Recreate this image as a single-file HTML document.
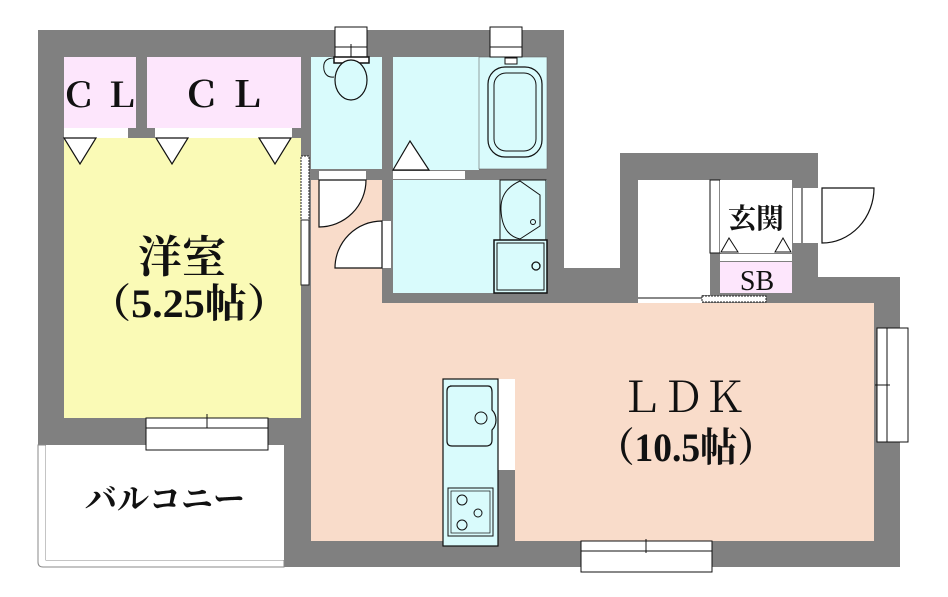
<!DOCTYPE html>
<html><head><meta charset="utf-8"><style>
html,body{margin:0;padding:0;background:#fff;}
svg{display:block;}
text{font-family:"Liberation Serif","Noto Serif CJK JP","Noto Serif CJK SC",serif;fill:#111;}
</style></head><body>
<svg width="948" height="597" viewBox="0 0 948 597" xmlns="http://www.w3.org/2000/svg">
<polygon points="38,30 564,30 564,268 620,268 620,153 818,153 818,277 900,277 900,567 284,567 284,445 38,445" fill="#808080"/>
<path d="M38,445 V562 Q38,567 43,567 H284 V560 H46 V445 Z" fill="#fff" stroke="#888" stroke-width="1"/>
<rect x="46" y="445" width="238" height="115" fill="#fff"/>
<rect x="64" y="138" width="237" height="280" fill="#fafab6"/>
<rect x="64" y="57" width="72" height="71" fill="#fde6fc"/>
<rect x="147" y="57" width="154" height="71" fill="#fde6fc"/>
<rect x="64" y="128" width="64" height="10" fill="#fff"/>
<rect x="155" y="128" width="137" height="10" fill="#fff"/>
<g fill="#fff" stroke="#111" stroke-width="1.2">
<polygon points="64,138 96,138 80,164"/>
<polygon points="156,138 188,138 172,164"/>
<polygon points="259,138 291,138 275,164"/>
</g>
<rect x="301" y="156" width="8" height="64" fill="#fff" stroke="#222" stroke-dasharray="2,1"/>
<rect x="301" y="220" width="8" height="65" fill="#fff" stroke="#222"/>
<rect x="146" y="418" width="122" height="32" fill="#fff" stroke="#111"/>
<line x1="146" y1="428" x2="268" y2="428" stroke="#111"/>
<line x1="207" y1="414" x2="207" y2="428" stroke="#111"/>
<rect x="311" y="57" width="71" height="112" fill="#d9fbfc"/>
<rect x="319" y="171" width="47" height="9" fill="#fff"/>
<rect x="335" y="27" width="32" height="30" fill="#fff" stroke="#111"/>
<line x1="335" y1="47" x2="367" y2="47" stroke="#111"/>
<line x1="351" y1="44" x2="351" y2="58" stroke="#111"/>
<rect x="334" y="57" width="35" height="6" fill="#fff" stroke="#111" stroke-width="1.5"/>
<ellipse cx="351" cy="80" rx="16" ry="20" fill="#d9fbfc" stroke="#111" stroke-width="1.2"/>
<path d="M334,58 Q322,58 324,70 Q326,78 334,77" fill="none" stroke="#111"/>
<rect x="393" y="57" width="86" height="113" fill="#d9fbfc"/>
<rect x="393" y="171" width="72" height="8" fill="#fff"/>
<polygon points="393,170 410,141 429,170" fill="#fff" stroke="#111" stroke-width="1.2"/>
<rect x="479" y="57" width="68" height="112" fill="#d9fbfc" stroke="#666" stroke-width="0.6"/>
<rect x="490" y="27" width="32" height="30" fill="#fff" stroke="#111"/>
<line x1="490" y1="47" x2="522" y2="47" stroke="#111"/>
<rect x="488" y="67" width="54" height="90" rx="17" fill="none" stroke="#111" stroke-width="1.2"/>
<rect x="494" y="73" width="42" height="78" rx="12" fill="none" stroke="#111"/>
<rect x="505" y="58" width="12" height="6" fill="#fff" stroke="#111"/>
<rect x="393" y="180" width="154" height="113" fill="#d9fbfc"/>
<rect x="500" y="180" width="46" height="60" fill="#d9fbfc" stroke="#111"/>
<path d="M520,181 Q500,190 501,210 Q502,235 520,239 L540,226 L540,195 Z" fill="none" stroke="#111"/>
<circle cx="533" cy="222" r="2.5" fill="none" stroke="#111"/>
<rect x="494" y="240" width="53" height="53" fill="#d9fbfc" stroke="#111" stroke-width="1.5"/>
<rect x="497" y="243" width="47" height="47" fill="none" stroke="#111"/>
<circle cx="536" cy="266" r="4" fill="none" stroke="#111" stroke-width="1.3"/>
<rect x="311" y="180" width="71" height="123" fill="#f9dcca"/>
<rect x="311" y="303" width="563" height="238" fill="#f9dcca"/>
<path d="M319,180 L319,227 A47,47 0 0 0 366,180 Z" fill="#fff" stroke="#111" stroke-width="1.2"/>
<rect x="382" y="221" width="9" height="47" fill="#fff"/>
<path d="M382,221 A47,47 0 0 0 335,268 L382,268 Z" fill="#fff" stroke="#111" stroke-width="1.2"/>
<rect x="638" y="180" width="72" height="115" fill="#fff"/>
<rect x="710" y="180" width="10" height="73" fill="#fff" stroke="#111"/>
<rect x="720" y="180" width="72" height="73" fill="#fff"/>
<rect x="720" y="254" width="72" height="7" fill="#fff"/>
<rect x="720" y="262" width="72" height="31" fill="#fde6fc"/>
<g fill="#fff" stroke="#111">
<polygon points="721,252 729,238 738,252"/>
<polygon points="775,252 783,238 791,252"/>
</g>
<rect x="638" y="293" width="64" height="10" fill="#fff"/>
<line x1="638" y1="298" x2="702" y2="298" stroke="#111"/>
<rect x="702" y="296" width="64" height="6" fill="#fff" stroke="#222" stroke-dasharray="2,1"/>
<rect x="793" y="188" width="29" height="55" fill="#fff"/>
<line x1="802" y1="188" x2="802" y2="243" stroke="#111"/>
<path d="M822,188 L874,188 A52,55 0 0 1 822,243 Z" fill="#fff" stroke="#111" stroke-width="1.2"/>
<rect x="877" y="328" width="31" height="114" fill="#fff" stroke="#111"/>
<line x1="887" y1="328" x2="887" y2="442" stroke="#111"/>
<line x1="875" y1="385" x2="890" y2="385" stroke="#111"/>
<rect x="581" y="541" width="131" height="31" fill="#fff" stroke="#111"/>
<line x1="581" y1="551" x2="712" y2="551" stroke="#111"/>
<line x1="646" y1="539" x2="646" y2="553" stroke="#111"/>
<rect x="498" y="379" width="17" height="91" fill="#fff"/>
<rect x="498" y="470" width="17" height="71" fill="#808080"/>
<rect x="443" y="379" width="55" height="167" fill="#d9fbfc" stroke="#111" stroke-width="1.2"/>
<path d="M450,386 H488 Q492,386 492,392 V410 Q496,414 496,420 Q496,426 492,430 V440 Q492,446 486,446 H452 Q447,446 447,441 V391 Q447,386 452,386 Z" fill="none" stroke="#111" stroke-width="1.2"/>
<circle cx="481" cy="418" r="6" fill="none" stroke="#111"/>
<rect x="448" y="488" width="45" height="48" fill="none" stroke="#111"/>
<rect x="451" y="491" width="39" height="42" fill="none" stroke="#111" stroke-width="0.7"/>
<circle cx="462" cy="500" r="5" fill="none" stroke="#111"/>
<circle cx="462" cy="525" r="5" fill="none" stroke="#111"/>
<circle cx="478" cy="513" r="4" fill="none" stroke="#111"/>
<text x="100" y="107" font-size="34" font-weight="bold" text-anchor="middle">Ｃ Ｌ</text>
<text x="224" y="107" font-size="36" font-weight="bold" text-anchor="middle">Ｃ Ｌ</text>
<text x="182" y="272" font-size="44" font-weight="bold" text-anchor="middle">洋室</text>
<text x="189" y="317" font-size="40" font-weight="bold" text-anchor="middle" textLength="200" lengthAdjust="spacingAndGlyphs">（5.25帖）</text>
<text x="683" y="412" font-size="42" text-anchor="middle">ＬＤＫ</text>
<text x="686" y="461" font-size="40" font-weight="bold" text-anchor="middle" textLength="178" lengthAdjust="spacingAndGlyphs">（10.5帖）</text>
<text x="756" y="228" font-size="28" font-weight="bold" text-anchor="middle">玄関</text>
<text x="757" y="290" font-size="28" text-anchor="middle">SB</text>
<text x="165" y="510" font-size="32" font-weight="bold" text-anchor="middle">バルコニー</text>
</svg>
</body></html>
